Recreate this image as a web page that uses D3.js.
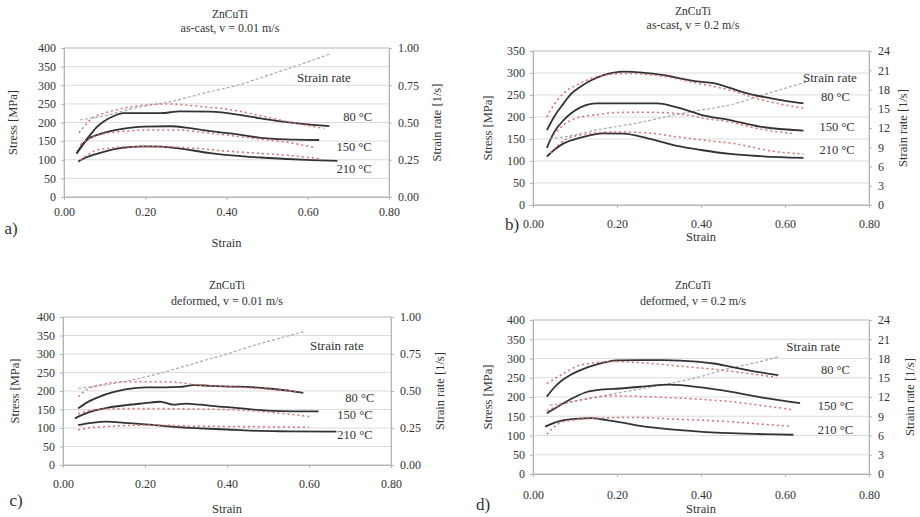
<!DOCTYPE html>
<html>
<head>
<meta charset="utf-8">
<script src="https://cdn.jsdelivr.net/npm/d3@7"></script>
<style>
body { margin: 0; background: #fff; }
</style>
</head>
<body>
<svg id="fig" width="920" height="517"></svg>
<script>
// tick labels
const strainTicks = [0, 0.2, 0.4, 0.6, 0.8];
const stressTicks400 = [0, 50, 100, 150, 200, 250, 300, 350, 400];
const stressTicks350 = [0, 50, 100, 150, 200, 250, 300, 350];
const rateTicksSlow = [0, 0.25, 0.5, 0.75, 1];
const rateTicksFast = [0, 3, 6, 9, 12, 15, 18, 21, 24];
const temps = ["80 °C", "150 °C", "210 °C"];

// a) as-cast, v = 0.01 m/s  -- [strain, stress MPa]
const castSlowExp = [
	[[0.031,117],[0.045,140],[0.064,166],[0.08,187],[0.097,202],[0.12,216],[0.146,225],[0.19,225],[0.237,225],[0.286,230],[0.36,229],[0.435,220],[0.484,211],[0.52,205],[0.58,197],[0.653,190]],
	[[0.031,117],[0.045,138],[0.056,153],[0.08,166],[0.114,177],[0.155,185],[0.196,189],[0.262,190],[0.31,185],[0.36,177],[0.435,167],[0.484,159],[0.517,156],[0.57,154],[0.628,153]],
	[[0.035,95],[0.05,104],[0.072,113],[0.1,122],[0.138,131],[0.196,136],[0.24,135],[0.278,131],[0.36,118],[0.42,111],[0.484,106],[0.55,102],[0.61,99],[0.673,97]]
];
const castSlowModel = [
	[[0.037,172],[0.05,190],[0.072,214],[0.09,222],[0.114,230],[0.171,243],[0.254,250],[0.336,243],[0.418,233],[0.484,218],[0.56,200],[0.64,184]],
	[[0.04,140],[0.055,152],[0.072,162],[0.1,170],[0.155,177],[0.22,180],[0.278,180],[0.34,174],[0.402,166],[0.484,155],[0.55,147],[0.616,133]],
	[[0.04,99],[0.06,114],[0.081,126],[0.12,132],[0.155,135],[0.237,135],[0.319,131],[0.402,123],[0.484,117],[0.54,113],[0.627,103]]
];
const castSlowRate = [[0.04,0.517],[0.1,0.545],[0.171,0.595],[0.262,0.64],[0.36,0.707],[0.435,0.756],[0.484,0.80],[0.55,0.86],[0.653,0.958]];

// b) as-cast, v = 0.2 m/s
const castFastExp = [
	[[0.033,170],[0.05,200],[0.073,231],[0.09,252],[0.113,269],[0.14,284],[0.168,295],[0.216,303],[0.26,301],[0.311,295],[0.35,288],[0.39,281],[0.43,277],[0.469,266],[0.501,256],[0.57,242],[0.644,231]],
	[[0.033,130],[0.05,165],[0.073,193],[0.09,208],[0.113,222],[0.152,231],[0.231,231],[0.295,231],[0.35,220],[0.40,205],[0.469,193],[0.54,178],[0.644,169]],
	[[0.033,110],[0.05,125],[0.073,140],[0.113,153],[0.168,163],[0.216,162],[0.271,152],[0.35,133],[0.40,125],[0.469,116],[0.54,111],[0.644,107]]
];
const castFastModel = [
	[[0.033,200],[0.05,228],[0.073,254],[0.113,277],[0.168,295],[0.231,299],[0.311,292],[0.39,277],[0.469,261],[0.54,240],[0.644,220]],
	[[0.041,150],[0.073,182],[0.113,200],[0.16,206],[0.192,210],[0.271,211],[0.35,207],[0.42,195],[0.469,189],[0.524,176],[0.62,162]],
	[[0.041,118],[0.073,146],[0.113,159],[0.192,166],[0.271,164],[0.35,154],[0.42,146],[0.469,141],[0.58,121],[0.644,116]]
];
const castFastRate = [[0.04,10.4],[0.073,10.6],[0.152,11.7],[0.25,12.8],[0.334,14.0],[0.40,14.8],[0.469,15.6],[0.55,17.2],[0.652,19.2]];

// c) deformed, v = 0.01 m/s
const defSlowExp = [
	[[0.037,153],[0.06,170],[0.09,185],[0.12,196],[0.155,205],[0.204,210],[0.25,210],[0.285,211],[0.318,216],[0.36,214],[0.407,212],[0.45,211],[0.497,207],[0.55,201],[0.586,195]],
	[[0.029,126],[0.05,137],[0.074,146],[0.11,155],[0.155,162],[0.2,167],[0.237,171],[0.269,163],[0.3,166],[0.334,163],[0.38,158],[0.415,155],[0.497,147],[0.56,145],[0.623,145]],
	[[0.037,108],[0.07,114],[0.107,117],[0.15,114],[0.212,109],[0.27,103],[0.334,99],[0.4,96],[0.456,93],[0.55,91],[0.667,90]]
];
const defSlowModel = [
	[[0.037,185],[0.06,205],[0.09,216],[0.155,225],[0.253,225],[0.334,216],[0.415,211],[0.5,205],[0.578,198]],
	[[0.037,138],[0.06,146],[0.09,150],[0.171,153],[0.334,151],[0.415,149],[0.5,143],[0.602,131]],
	[[0.037,95],[0.07,101],[0.107,104],[0.212,108],[0.334,105],[0.415,104],[0.5,103],[0.6,102]]
];
const defSlowRate = [[0.037,0.518],[0.1,0.54],[0.204,0.597],[0.3,0.67],[0.334,0.698],[0.407,0.755],[0.456,0.80],[0.52,0.85],[0.586,0.90]];

// d) deformed, v = 0.2 m/s
const defFastExp = [
	[[0.033,201],[0.05,224],[0.07,244],[0.09,258],[0.113,270],[0.15,284],[0.2,295],[0.25,296],[0.311,296],[0.39,292],[0.43,287],[0.469,279],[0.52,268],[0.584,257]],
	[[0.033,158],[0.073,184],[0.1,200],[0.128,213],[0.16,219],[0.192,221],[0.25,226],[0.326,232],[0.4,225],[0.469,214],[0.55,198],[0.636,184]],
	[[0.029,123],[0.05,133],[0.073,140],[0.1,143],[0.136,145],[0.176,140],[0.22,132],[0.255,125],[0.35,114],[0.469,106],[0.62,102]]
];
const defFastModel = [
	[[0.033,235],[0.073,261],[0.113,283],[0.192,292],[0.271,288],[0.35,280],[0.43,272],[0.5,263],[0.58,251]],
	[[0.033,164],[0.073,182],[0.113,192],[0.192,203],[0.311,199],[0.4,194],[0.469,188],[0.55,177],[0.62,167]],
	[[0.033,103],[0.05,122],[0.073,136],[0.152,145],[0.231,147],[0.35,142],[0.469,136],[0.55,129],[0.612,124]]
];
const defFastRate = [[0.04,10.7],[0.136,11.8],[0.2,12.6],[0.326,14.1],[0.40,15.2],[0.469,16.5],[0.52,17.2],[0.588,18.3]];

// panel layout (pixels) and label anchors (data units)
const panels = [
	{ letter: "a)", sub: "as-cast, v = 0.01 m/s", exp: castSlowExp, model: castSlowModel, rate: castSlowRate,
		stressTicks: stressTicks400, rateTicks: rateTicksSlow, rateFmt: d3.format(".2f"),
		x0: 64, x1: 389, y0: 48, y1: 197, titleX: 230, titleY: 14, titleGap: 14, xLabY: 212, xTitleY: 243,
		letterX: 11, letterY: 228, yTitleX: 13, rTitleX: 437,
		rateLab: [0.64, 322], tempLab: [[0.723, 215], [0.714, 134], [0.714, 74]] },
	{ letter: "b)", sub: "as-cast, v = 0.2 m/s", exp: castFastExp, model: castFastModel, rate: castFastRate,
		stressTicks: stressTicks350, rateTicks: rateTicksFast, rateFmt: d3.format("d"),
		x0: 533, x1: 869, y0: 51, y1: 205, titleX: 693, titleY: 11, titleGap: 14, xLabY: 224, xTitleY: 237,
		letterX: 512, letterY: 224, yTitleX: 488, rTitleX: 903,
		rateLab: [0.707, 289], tempLab: [[0.72, 246], [0.724, 177], [0.724, 125]] },
	{ letter: "c)", sub: "deformed, v = 0.01 m/s", exp: defSlowExp, model: defSlowModel, rate: defSlowRate,
		stressTicks: stressTicks400, rateTicks: rateTicksSlow, rateFmt: d3.format(".2f"),
		x0: 63, x1: 391, y0: 317, y1: 465, titleX: 227, titleY: 285, titleGap: 16, xLabY: 484, xTitleY: 509,
		letterX: 16, letterY: 500, yTitleX: 15, rTitleX: 440,
		rateLab: [0.668, 324], tempLab: [[0.724, 181], [0.712, 135], [0.712, 81]] },
	{ letter: "d)", sub: "deformed, v = 0.2 m/s", exp: defFastExp, model: defFastModel, rate: defFastRate,
		stressTicks: stressTicks400, rateTicks: rateTicksFast, rateFmt: d3.format("d"),
		x0: 533, x1: 869, y0: 320, y1: 474, titleX: 693, titleY: 285, titleGap: 16, xLabY: 495, xTitleY: 509,
		letterX: 483, letterY: 504, yTitleX: 488, rTitleX: 910,
		rateLab: [0.667, 332], tempLab: [[0.72, 270], [0.72, 177], [0.72, 114]] }
];

const svg = d3.select("#fig");
const textColor = "#333";
const serif = "Liberation Serif";

for (const p of panels) {
	const g = svg.append("g");
	const x = d3.scaleLinear().domain([0, 0.8]).range([p.x0, p.x1]);
	const y = d3.scaleLinear().domain([0, d3.max(p.stressTicks)]).range([p.y1, p.y0]);
	const yr = d3.scaleLinear().domain([0, d3.max(p.rateTicks)]).range([p.y1, p.y0]);

	// gridlines
	g.append("g")
		.selectAll("line")
		.data(p.stressTicks)
		.enter().append("line")
		.attr("x1", p.x0).attr("x2", p.x1)
		.attr("y1", d => y(d)).attr("y2", d => y(d))
		.attr("stroke", "#dcdcdc")
		.attr("stroke-width", 1);

	g.append("rect")
		.attr("x", p.x0).attr("y", p.y0)
		.attr("width", p.x1 - p.x0).attr("height", p.y1 - p.y0)
		.attr("fill", "none")
		.attr("stroke", "#c8c8c8");

	// axes
	const axStyle = sel => {
		sel.attr("font-family", serif).attr("font-size", 12);
		sel.select(".domain").attr("stroke", "#b4b4b4");
		sel.selectAll(".tick line").attr("stroke", "#b4b4b4");
		sel.selectAll("text")
			.attr("font-family", serif)
			.attr("font-size", 12)
			.attr("fill", textColor);
	};
	g.append("g")
		.attr("transform", `translate(${p.x0},0)`)
		.call(d3.axisLeft(y).tickValues(p.stressTicks).tickSize(3).tickPadding(5).tickFormat(d3.format("d")))
		.call(axStyle);
	g.append("g")
		.attr("transform", `translate(${p.x1},0)`)
		.call(d3.axisRight(yr).tickValues(p.rateTicks).tickSize(3).tickPadding(6).tickFormat(p.rateFmt))
		.call(axStyle);
	const xAx = g.append("g")
		.attr("transform", `translate(0,${p.y1})`)
		.call(d3.axisBottom(x).tickValues(strainTicks).tickSize(3).tickPadding(6).tickFormat(d3.format(".2f")))
		.call(axStyle);
	xAx.selectAll("text")
		.attr("y", p.xLabY - p.y1)
		.attr("dy", "0.35em");

	// strain rate
	g.append("path")
		.datum(p.rate)
		.attr("fill", "none")
		.attr("stroke", "#a9a9a9")
		.attr("stroke-width", 1.2)
		.attr("stroke-dasharray", "3,2")
		.attr("d", d3.line().curve(d3.curveMonotoneX).x(d => x(d[0])).y(d => yr(d[1])));

	// experimental (solid) and model (dotted)
	const line = d3.line().curve(d3.curveMonotoneX).x(d => x(d[0])).y(d => y(d[1]));
	g.append("g")
		.selectAll("path")
		.data(p.exp)
		.enter().append("path")
		.attr("fill", "none")
		.attr("stroke", "#333")
		.attr("stroke-width", 1.8)
		.attr("d", line);
	g.append("g")
		.selectAll("path")
		.data(p.model)
		.enter().append("path")
		.attr("fill", "none")
		.attr("stroke", "#d96f6f")
		.attr("stroke-width", 1.5)
		.attr("stroke-dasharray", "2,3")
		.attr("d", line);

	// labels
	const txt = (tx, ty, s, size, anchor = "middle") => g.append("text")
		.attr("x", tx).attr("y", ty)
		.attr("text-anchor", anchor)
		.attr("dominant-baseline", "central")
		.attr("font-family", serif)
		.attr("font-size", size)
		.attr("fill", textColor)
		.text(s);

	txt(x(p.rateLab[0]), y(p.rateLab[1]), "Strain rate", 13);
	p.tempLab.forEach((t, i) => txt(x(t[0]), y(t[1]), temps[i], 12.5));

	txt(p.titleX, p.titleY, "ZnCuTi", 11.5);
	txt(p.titleX, p.titleY + p.titleGap, p.sub, 12);
	txt((p.x0 + p.x1) / 2, p.xTitleY, "Strain", 12.5);
	txt(p.letterX, p.letterY, p.letter, 17);

	txt(0, 0, "Stress [MPa]", 12.5)
		.attr("transform", `translate(${p.yTitleX},${(p.y0 + p.y1) / 2}) rotate(-90)`);
	txt(0, 0, "Strain rate [1/s]", 12.5)
		.attr("transform", `translate(${p.rTitleX},${(p.y0 + p.y1) / 2}) rotate(-90)`);
}
</script>
</body>
</html>
